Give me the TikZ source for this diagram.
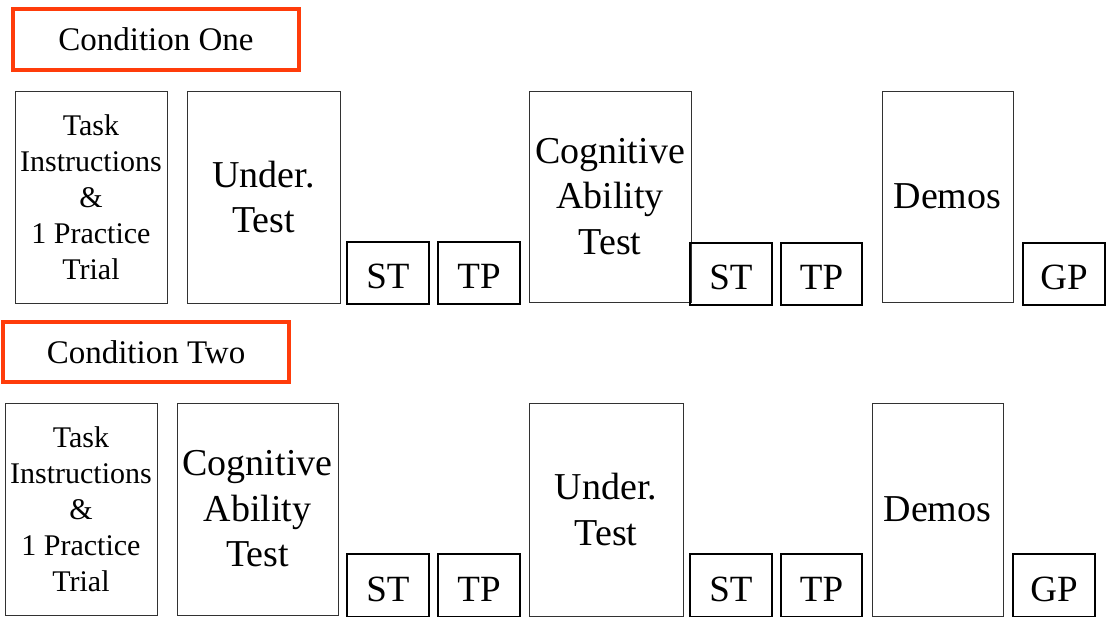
\documentclass[tikz,border=0pt]{standalone}
\usepackage{fontspec}
\setmainfont{Liberation Serif}
\definecolor{condred}{RGB}{255,60,10}
\definecolor{boxgray}{RGB}{50,50,50}
\begin{document}
\begin{tikzpicture}[x=1pt,y=-1pt,
  condbox/.style={draw=condred, line width=4.5pt, inner sep=0pt, minimum width=286pt, minimum height=61pt, font=\fontsize{33}{40}\selectfont},
  tallbox/.style={draw=boxgray, line width=1pt, inner sep=0pt, align=center, minimum height=212pt},
  smalltxt/.style={font=\fontsize{30}{36}\selectfont},
  bigtxt/.style={font=\fontsize{38}{45.5}\selectfont},
  shortbox/.style={draw=black, line width=2pt, inner sep=0pt, minimum width=82pt, minimum height=62pt, text height=31pt, text depth=0pt, font=\fontsize{37}{44}\selectfont}]
\useasboundingbox (0,0) rectangle (1107,616);
% Condition One
\node[condbox] (c1) at (156,39.5) {Condition One};
\node[tallbox, smalltxt, minimum width=152pt] (t1) at (91,197) {Task\\Instructions\\\&\\1 Practice\\Trial};
\node[tallbox, bigtxt, minimum width=153pt] (u1) at (263.5,197) {Under.\\Test};
\node[shortbox] (st1) at (388,273) {ST};
\node[shortbox] (tp1) at (479,273) {TP};
\node[tallbox, bigtxt, minimum width=162pt, minimum height=211pt] (cg1) at (610,196.5) {Cognitive\\Ability\\Test};
\node[shortbox] (st2) at (731,273.5) {ST};
\node[shortbox, minimum width=81pt] (tp2) at (821.5,273.5) {TP};
\node[tallbox, bigtxt, minimum width=131pt, minimum height=211pt] (dm1) at (947.5,196.5) {Demos};
\node[shortbox] (gp1) at (1064,273.5) {GP};
% Condition Two
\node[condbox, minimum height=60pt] (c2) at (146,352) {Condition Two};
\node[tallbox, smalltxt, minimum width=152pt] (t2) at (81,509) {Task\\Instructions\\\&\\1 Practice\\Trial};
\node[tallbox, bigtxt, minimum width=161pt] (cg2) at (257.5,509) {Cognitive\\Ability\\Test};
\node[shortbox, minimum height=63pt] (st3) at (388,585.5) {ST};
\node[shortbox, minimum height=63pt] (tp3) at (479,585.5) {TP};
\node[tallbox, bigtxt, minimum width=154pt, minimum height=213pt] (u2) at (606,509.5) {Under.\\Test};
\node[shortbox, minimum height=63pt] (st4) at (731,585.5) {ST};
\node[shortbox, minimum width=81pt, minimum height=63pt] (tp4) at (821.5,585.5) {TP};
\node[tallbox, bigtxt, minimum width=131pt, minimum height=213pt] (dm2) at (937.5,509.5) {Demos};
\node[shortbox, minimum height=63pt] (gp2) at (1054,585.5) {GP};
\end{tikzpicture}
\end{document}
